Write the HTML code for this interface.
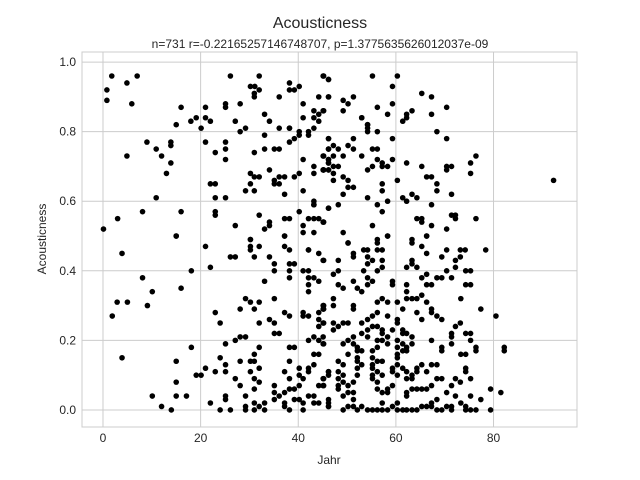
<!DOCTYPE html>
<html><head><meta charset="utf-8"><style>
html,body{margin:0;padding:0;background:#fff;}
svg{display:block;font-family:"Liberation Sans",sans-serif;}
</style></head><body>
<svg id="chart" width="640" height="480">
<text x="320" y="28" text-anchor="middle" font-size="16" fill="#262626">Acousticness</text>
<text x="320" y="48" text-anchor="middle" font-size="12" fill="#262626">n=731 r=-0.22165257146748707, p=1.3775635626012037e-09</text>
<g id="grid"></g>
<g id="points"></g>
<rect x="82" y="52" width="495" height="375" fill="none" stroke="#cccccc" stroke-width="1"/>
<g id="xticks"></g>
<g id="yticks"></g>
<text x="329" y="464" text-anchor="middle" font-size="12" fill="#262626">Jahr</text>
<text transform="translate(46,239) rotate(-90)" text-anchor="middle" font-size="12" fill="#262626">Acousticness</text>
</svg>
<script>
const xTicks=[0,20,40,60,80];
const yTicks=[0.0,0.2,0.4,0.6,0.8,1.0];
const yTickLabels=["0.0","0.2","0.4","0.6","0.8","1.0"];
const samples=[
[1.8,.96],[0.8,.92],[0.8,.89],[4.9,.94],[7.0,.96],[5.9,.88],[26.1,.96],[32.0,.96],[30.2,.93],[31.1,.93],[32.0,.92],[31.0,.91],[31.0,.90],[38.2,.94],[38.2,.92],[39.2,.92],[40.2,.93],[45.2,.96],[46.2,.95],[36.1,.90],[28.1,.88],[25.1,.88],[25.1,.87],[21.0,.87],[16.0,.87],[21.0,.84],[22.0,.83],[19.1,.84],[18.0,.83],[15.0,.82],[20.1,.81],[27.1,.83],[29.2,.81],[28.1,.80],[33.1,.85],[34.1,.83],[41.0,.88],[44.2,.90],[46.2,.90],[45.2,.86],[43.2,.86],[44.2,.85],[43.2,.84],[44.2,.83],[41.0,.84],[36.1,.81],[38.2,.81],[38.2,.81],[40.2,.80],[40.2,.79],[42.1,.80],[42.1,.79],[43.2,.81],[46.2,.78],[39.2,.78],[38.2,.77],[33.1,.79],[21.0,.77],[25.1,.77],[25.1,.75],[23.0,.74],[25.1,.72],[9.0,.77],[10.9,.75],[12.0,.73],[13.9,.77],[13.9,.76],[13.9,.71],[13.0,.68],[4.9,.73],[31.0,.74],[33.1,.75],[35.1,.75],[36.1,.75],[34.1,.69],[30.2,.68],[31.0,.67],[32.0,.67],[30.2,.65],[35.1,.66],[35.1,.65],[36.1,.67],[36.1,.65],[37.2,.67],[39.2,.67],[40.2,.68],[41.0,.72],[43.2,.70],[43.2,.68],[45.2,.73],[46.2,.75],[45.2,.69],[45.2,.69],[46.2,.69],[46.2,.72],[46.2,.71],[22.0,.65],[23.0,.65],[23.0,.61],[25.1,.61],[29.2,.63],[31.0,.63],[37.2,.62],[41.0,.63],[10.9,.61],[8.1,.57],[3.0,.55],[16.0,.57],[23.0,.57],[23.0,.56],[27.1,.53],[32.0,.56],[34.1,.54],[34.1,.53],[37.2,.55],[38.2,.55],[40.2,.57],[42.1,.55],[43.2,.55],[44.2,.55],[45.2,.54],[46.2,.58],[43.2,.60],[43.2,.59],[43.2,.59],[41.0,.53],[41.0,.51],[43.2,.51],[33.1,.52],[30.2,.49],[37.2,.50],[0.1,.52],[15.0,.50],
[45.1,.96],[46.2,.95],[55.2,.96],[60.3,.96],[59.3,.93],[46.2,.90],[49.2,.89],[50.2,.88],[51.3,.90],[49.2,.86],[45.1,.86],[53.0,.84],[53.0,.84],[54.2,.82],[54.2,.82],[54.2,.81],[54.2,.80],[56.2,.87],[58.3,.85],[59.3,.88],[56.2,.80],[59.3,.78],[65.3,.91],[67.3,.90],[70.4,.87],[63.3,.86],[62.2,.85],[62.2,.84],[61.4,.83],[67.3,.85],[68.4,.80],[70.4,.78],[46.2,.78],[51.3,.78],[50.2,.76],[47.2,.76],[46.2,.75],[48.2,.75],[49.2,.73],[45.1,.73],[47.2,.73],[46.2,.72],[46.2,.71],[51.3,.75],[53.0,.73],[55.2,.75],[56.2,.75],[56.2,.72],[57.2,.71],[57.2,.70],[58.3,.70],[59.3,.72],[54.2,.69],[55.2,.70],[45.1,.69],[45.1,.69],[46.2,.69],[47.2,.70],[48.2,.70],[47.2,.68],[47.2,.66],[49.2,.67],[50.2,.66],[50.2,.64],[51.3,.64],[49.2,.62],[54.2,.61],[56.2,.59],[57.2,.57],[58.3,.60],[57.2,.65],[57.2,.63],[60.3,.66],[62.2,.71],[65.3,.70],[66.3,.67],[67.3,.67],[68.4,.65],[68.4,.63],[70.4,.70],[71.4,.70],[70.4,.69],[71.4,.62],[63.3,.62],[64.3,.61],[61.4,.61],[62.2,.60],[67.3,.59],[64.3,.55],[65.3,.55],[65.3,.54],[67.3,.53],[70.4,.52],[71.4,.56],[72.2,.56],[72.2,.55],[76.4,.55],[66.3,.50],[63.3,.49],[75.3,.71],[76.4,.73],[75.3,.68],[92.3,.66],[46.2,.58],[48.2,.59],[45.1,.54],[49.2,.51],[55.2,.53],[58.3,.50],[56.2,.49],[50.2,.48],
[15.0,.50],[3.9,.45],[21.0,.47],[22.0,.41],[26.1,.44],[27.1,.44],[30.2,.49],[30.2,.47],[30.2,.46],[32.0,.47],[31.0,.44],[34.1,.44],[35.1,.42],[35.1,.40],[37.2,.50],[37.2,.47],[38.2,.46],[38.2,.42],[39.2,.42],[38.2,.40],[38.2,.38],[33.1,.37],[35.1,.32],[29.2,.32],[30.2,.31],[32.0,.31],[31.0,.29],[28.1,.29],[23.0,.28],[24.0,.25],[32.0,.25],[34.1,.26],[35.1,.25],[35.1,.22],[36.1,.22],[37.2,.28],[38.2,.27],[41.0,.28],[41.0,.27],[42.1,.27],[42.1,.46],[42.1,.46],[44.2,.45],[45.2,.43],[41.0,.40],[42.1,.40],[42.1,.38],[43.2,.38],[44.2,.37],[42.1,.36],[42.1,.34],[45.2,.30],[45.2,.29],[44.2,.28],[44.2,.26],[44.2,.24],[45.2,.25],[44.2,.20],[43.2,.21],[42.1,.20],[45.2,.19],[44.2,.16],[43.2,.16],[8.1,.38],[18.1,.40],[16.0,.35],[10.1,.34],[9.1,.30],[2.9,.31],[5.0,.31],[1.9,.27],[3.9,.15],[18.1,.18],[15.0,.14],[15.0,.08],[15.0,.04],[10.1,.04],[12.0,.01],[14.0,.00],[17.1,.04],[19.1,.10],[20.1,.10],[21.0,.12],[23.0,.11],[25.1,.13],[25.1,.11],[24.0,.15],[25.1,.19],[27.1,.20],[28.1,.21],[29.2,.21],[32.0,.18],[31.0,.16],[30.2,.14],[31.0,.14],[28.1,.14],[30.2,.11],[31.0,.09],[32.0,.12],[32.0,.08],[27.1,.09],[28.1,.07],[31.0,.06],[29.2,.04],[22.0,.02],[25.1,.04],[25.1,.03],[24.0,.00],[26.1,.00],[29.2,.01],[29.2,.00],[31.0,.02],[31.0,.00],[32.0,.01],[33.1,.02],[33.1,.00],[35.1,.07],[35.1,.05],[35.1,.03],[36.1,.04],[37.2,.05],[37.2,.11],[38.2,.14],[38.2,.09],[38.2,.18],[39.2,.18],[40.2,.12],[40.2,.10],[41.0,.09],[42.1,.11],[42.1,.12],[40.2,.07],[39.2,.06],[38.2,.06],[39.2,.03],[40.2,.03],[41.0,.02],[41.0,.00],[42.1,.04],[43.2,.04],[43.2,.02],[44.2,.02],[37.2,.02],[37.2,.01],[38.2,.00],[45.2,.09],[45.2,.07],[44.2,.07],[43.2,.13],[46.2,.11],[46.2,.03],[46.2,.01],
[45.1,.43],[50.2,.48],[51.3,.45],[51.3,.44],[48.2,.43],[53.4,.46],[54.2,.46],[54.2,.44],[55.2,.43],[56.2,.48],[56.2,.46],[57.2,.46],[57.2,.43],[57.2,.41],[56.2,.40],[58.3,.50],[54.2,.42],[63.3,.48],[63.3,.43],[62.2,.41],[63.3,.42],[64.3,.41],[65.3,.47],[66.3,.45],[66.3,.50],[69.4,.44],[70.4,.46],[72.2,.43],[73.2,.46],[74.2,.46],[73.2,.44],[72.2,.41],[70.4,.40],[71.4,.38],[74.3,.40],[75.3,.40],[78.4,.46],
[47.2,.39],[48.2,.40],[48.2,.36],[49.2,.35],[51.3,.37],[53.4,.40],[54.2,.38],[55.2,.37],[54.2,.36],[52.1,.35],[53.0,.34],[59.3,.37],[59.3,.36],[62.2,.36],[62.2,.34],[62.2,.32],[63.3,.32],[64.3,.32],[65.3,.33],[65.3,.38],[66.3,.36],[67.3,.36],[66.3,.39],[68.4,.38],[69.4,.38],[74.3,.36],[75.3,.36],[73.3,.32],[77.4,.29],[80.5,.27],[47.2,.32],[47.2,.30],[51.3,.30],[51.3,.29],[56.2,.31],[57.2,.32],[58.3,.31],[60.3,.31],[61.4,.29],[64.3,.28],[66.3,.31],[65.3,.26],[67.3,.29],[67.3,.28],[68.4,.27],[69.4,.26],
[45.1,.30],[45.1,.29],[45.1,.25],[47.2,.25],[47.2,.23],[48.2,.24],[49.2,.25],[50.2,.25],[53.0,.25],[54.2,.26],[55.2,.27],[56.2,.28],[55.2,.24],[54.2,.23],[56.2,.24],[57.2,.23],[58.3,.27],[53.0,.22],[54.2,.21],[57.2,.22],[59.3,.23],[60.3,.26],[60.3,.25],[61.4,.23],[61.4,.22],[62.2,.22],[63.3,.21],[60.3,.20],[58.3,.19],[56.2,.20],[51.3,.21],[50.2,.20],[49.2,.19],[51.3,.19],[52.1,.18],[50.2,.16],[52.1,.17],[53.0,.17],[55.2,.17],[56.2,.18],[57.2,.20],[58.3,.21],[60.3,.18],[61.4,.19],[62.2,.18],[63.3,.19],[60.3,.16],[60.3,.15],[61.4,.17],[62.2,.17],[67.3,.20],[69.4,.18],[69.4,.17],[71.4,.19],[71.4,.21],[71.4,.22],[72.2,.24],[73.2,.25],[74.3,.22],[75.3,.22],[75.3,.20],[73.3,.16],[74.3,.16],[76.4,.18],[76.4,.17],[82.2,.18],[82.2,.17],
[45.1,.21],[45.1,.19],[45.1,.09],[46.2,.11],[46.2,.10],[45.1,.07],[48.2,.14],[49.2,.13],[48.2,.11],[49.2,.10],[48.2,.09],[49.2,.08],[48.2,.07],[48.2,.06],[49.2,.04],[50.2,.07],[50.2,.05],[51.3,.08],[51.3,.05],[51.3,.03],[52.1,.12],[52.1,.10],[52.1,.15],[52.1,.14],[53.0,.13],[55.2,.15],[55.2,.13],[55.2,.12],[55.2,.10],[55.2,.09],[56.2,.14],[57.2,.14],[56.2,.11],[56.2,.08],[56.2,.06],[57.2,.10],[57.2,.05],[58.3,.06],[58.3,.05],[59.3,.07],[59.3,.12],[59.3,.11],[60.3,.13],[60.3,.10],[61.4,.12],[62.2,.11],[62.2,.09],[63.3,.10],[63.3,.09],[64.3,.11],[64.3,.12],[63.3,.06],[62.2,.05],[62.2,.04],[64.3,.06],[65.3,.06],[65.3,.13],[66.3,.11],[66.3,.06],[67.3,.13],[67.3,.07],[68.4,.13],[68.4,.09],[69.4,.09],[70.4,.05],[71.4,.07],[72.2,.09],[72.2,.04],[73.2,.08],[74.3,.12],[74.3,.11],[75.3,.09],[73.3,.02],[75.3,.04],[77.4,.03],[79.4,.06],[81.5,.05],[46.2,.02],[46.2,.01],[49.2,.00],[50.2,.01],[51.3,.01],[52.1,.00],[53.0,.01],[54.2,.00],[55.2,.00],[56.2,.00],[57.2,.02],[57.2,.00],[58.3,.00],[59.3,.01],[60.3,.00],[60.3,.02],[61.4,.00],[62.2,.00],[63.3,.00],[64.3,.00],[65.3,.01],[66.3,.01],[67.3,.01],[67.3,.02],[68.4,.03],[68.4,.00],[69.4,.00],[70.4,.01],[71.4,.01],[71.4,.00],[74.3,.01],[74.3,.00],[75.3,.00],[76.4,.00],[79.4,.00]
];
const jahr=samples.map(d=>d[0]);
const acousticness=samples.map(d=>d[1]);

const NS="http://www.w3.org/2000/svg";
const L=82,R=577,T=52,B=427,XMIN=-4.3,XMAX=97.1,YMIN=-0.049,YMAX=1.029;
function sx(v){return L+(v-XMIN)/(XMAX-XMIN)*(R-L);}
function sy(v){return B-(v-YMIN)/(YMAX-YMIN)*(B-T);}
function mk(tag,attrs,parent){const e=document.createElementNS(NS,tag);for(const k in attrs)e.setAttribute(k,attrs[k]);parent.appendChild(e);return e;}
const grid=document.getElementById('grid'),xg=document.getElementById('xticks'),yg=document.getElementById('yticks'),pg=document.getElementById('points');
xTicks.forEach(v=>{
  const l=mk('line',{x1:sx(v),x2:sx(v),y1:T,y2:B,stroke:'#cccccc','stroke-width':1},grid);
  
  
  const t=mk('text',{x:sx(v),y:B+15,'text-anchor':'middle','font-size':12,fill:'#262626'},xg);
  t.textContent=String(v);
  
  
});
yTicks.forEach((v,i)=>{
  const l=mk('line',{x1:L,x2:R,y1:sy(v),y2:sy(v),stroke:'#cccccc','stroke-width':1},grid);
  
  
  const t=mk('text',{x:L-6,y:sy(v)+4,'text-anchor':'end','font-size':12,fill:'#262626'},yg);
  t.textContent=yTickLabels[i];
  
  
});
for(let i=0;i<jahr.length;i++){
  const c=mk('circle',{cx:sx(jahr[i]),cy:sy(acousticness[i]),r:2.8,fill:'#000'},pg);
  
  
}
</script>
</body></html>
